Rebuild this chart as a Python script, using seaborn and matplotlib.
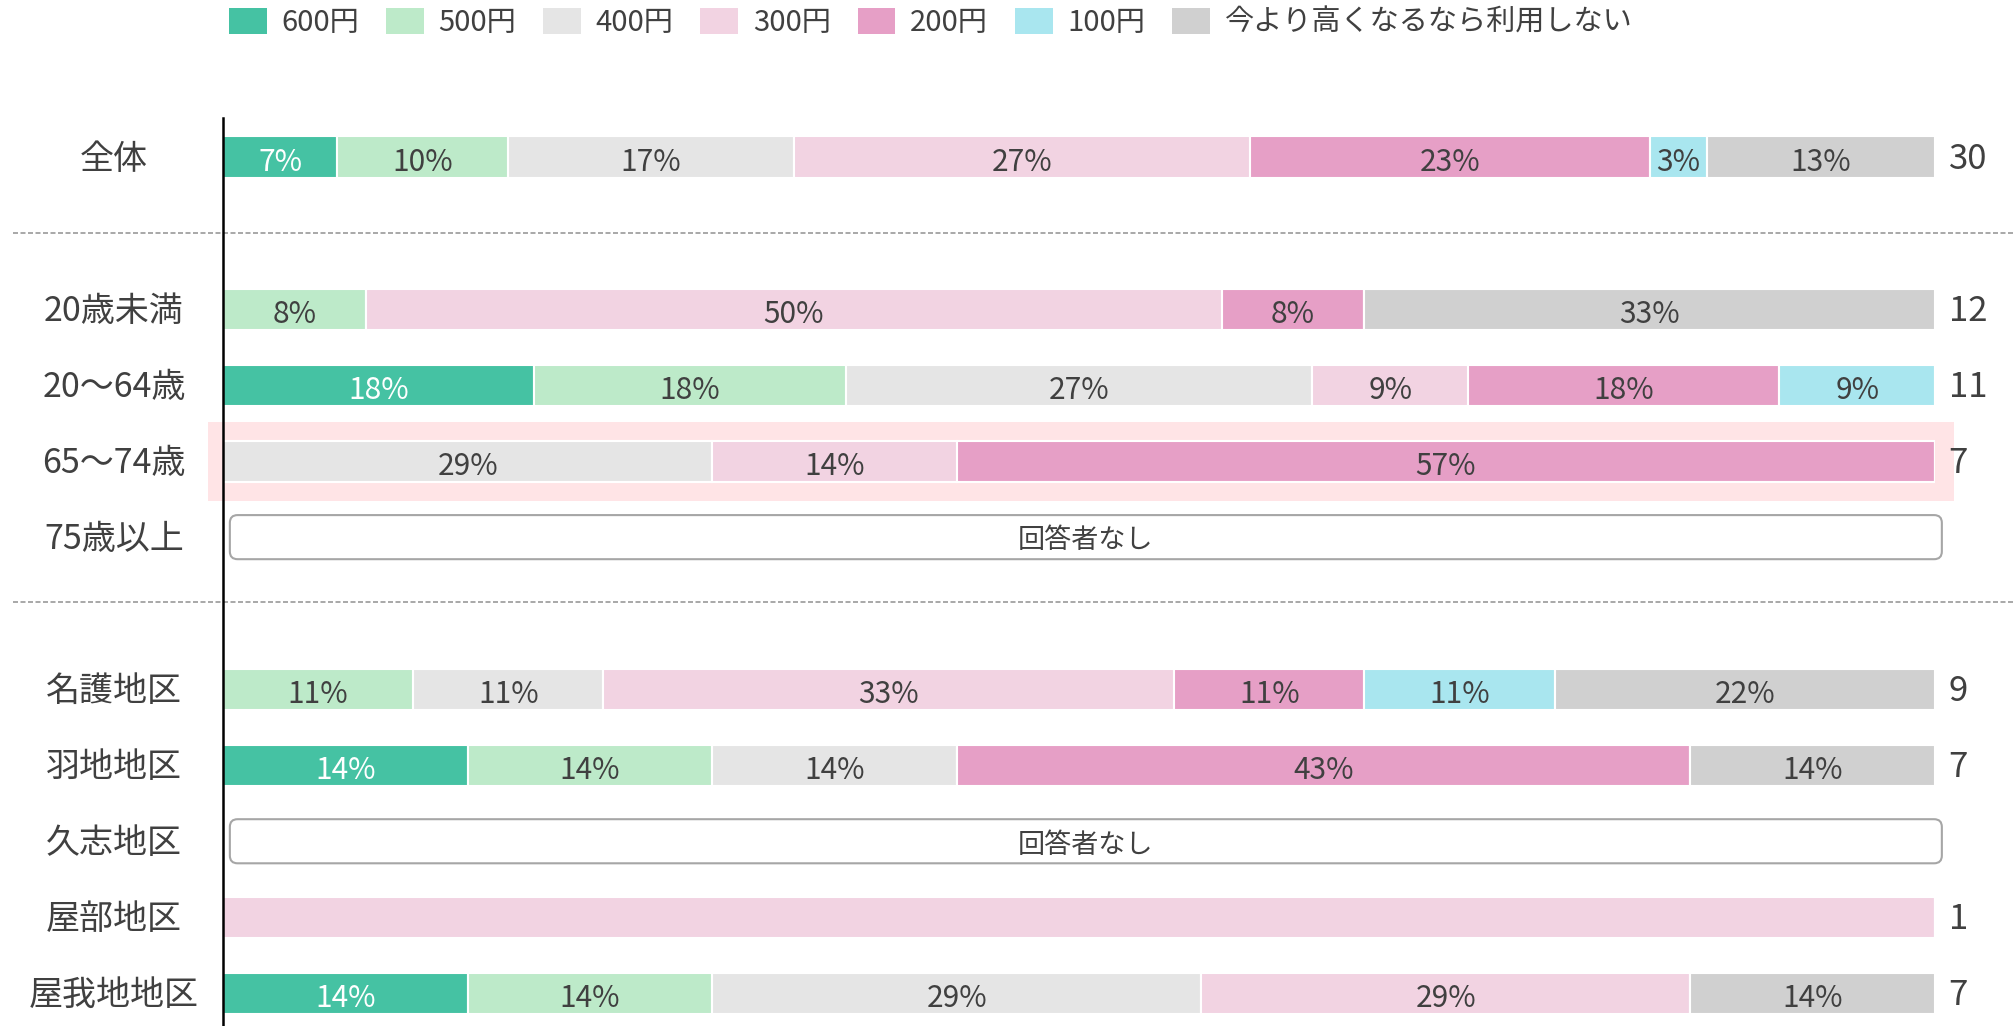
import numpy as np
import pandas as pd
import matplotlib
matplotlib.use("Agg")
import matplotlib.pyplot as plt
import seaborn as sns
from matplotlib.patches import Patch, Rectangle, FancyBboxPatch
from matplotlib.transforms import blended_transform_factory

# rows of the chart, position on the y axis (gaps are the dashed separators)
rows = ["全体", "20歳未満", "20～64歳", "65～74歳", "75歳以上",
        "名護地区", "羽地地区", "久志地区", "屋部地区", "屋我地地区"]
row_pos = [0, 2, 3, 4, 5, 7, 8, 9, 10, 11]

answers = ["600円", "500円", "400円", "300円", "200円", "100円", "今より高くなるなら利用しない"]
colors = ["#45C2A3", "#BDEAC9", "#E5E5E5", "#F2D3E2", "#E69FC6", "#A9E6EF", "#D0D0D0"]

# number of answers per row, in the order of `answers` (None = 回答者なし)
cnt_zentai = [2, 3, 5, 8, 7, 1, 4]
cnt_u20 = [0, 1, 0, 6, 1, 0, 4]
cnt_20_64 = [2, 2, 3, 1, 2, 1, 0]
cnt_65_74 = [0, 0, 2, 1, 4, 0, 0]
cnt_75 = None
cnt_nago = [0, 1, 1, 3, 1, 1, 2]
cnt_haneji = [1, 1, 1, 0, 3, 0, 1]
cnt_kushi = None
cnt_yabu = [0, 0, 0, 1, 0, 0, 0]
cnt_yagaji = [1, 1, 2, 2, 0, 0, 1]
counts = [cnt_zentai, cnt_u20, cnt_20_64, cnt_65_74, cnt_75,
          cnt_nago, cnt_haneji, cnt_kushi, cnt_yabu, cnt_yagaji]

highlight_row = "65～74歳"
no_answer_text = "回答者なし"

TXT = "#404040"

recs = []
for name, pos, cnt in zip(rows, row_pos, counts):
    if cnt is None:
        continue
    n = sum(cnt)
    left = 0.0
    for a, c in zip(answers, cnt):
        pct = c / n * 100
        recs.append(dict(row=name, pos=pos, answer=a, pct=pct, left=left, n=n))
        left += pct
df = pd.DataFrame(recs)

sns.set_theme(style="white")
plt.rcParams["font.family"] = ["Noto Sans CJK JP", "DejaVu Sans"]

W, H = 2013, 1026
fig = plt.figure(figsize=(W / 100, H / 100), dpi=100)
ax = fig.add_axes([223 / W, 0, (1935 - 223) / W, 908 / H])

for a, col in zip(answers, colors):
    sub = df[df["answer"] == a].sort_values("pos")
    sns.barplot(data=sub, x="pct", y="pos", orient="h", native_scale=True,
                left=sub["left"].to_numpy(), color=col, saturation=1,
                width=0.54, edgecolor="white", linewidth=1.5,
                errorbar=None, ax=ax, zorder=2)

# percentage labels
for _, r in df.iterrows():
    if r["pct"] <= 0 or r["pct"] >= 100:
        continue
    tc = "white" if r["answer"] == "600円" else TXT
    ax.text(r["left"] + r["pct"] / 2, r["pos"] + 0.07, f"{round(r['pct'])}%",
            ha="center", va="center", fontsize=21.5, color=tc, zorder=3)

# n labels on the right
for name, pos, cnt in zip(rows, row_pos, counts):
    if cnt is not None:
        ax.text(100.8, pos + 0.03, str(sum(cnt)), ha="left", va="center",
                fontsize=25, color=TXT, clip_on=False)

# row labels on the left
lab_tr = blended_transform_factory(fig.transFigure, ax.transData)
for name, pos in zip(rows, row_pos):
    ax.text(114 / W, pos + 0.03, name, ha="center", va="center", fontsize=24.5,
            color=TXT, transform=lab_tr, clip_on=False)

# highlighted row
hp = row_pos[rows.index(highlight_row)]
ax.add_patch(Rectangle((-0.88, hp - 0.52), 102.0, 1.04, fc="#FFE4E6", ec="none",
                       zorder=0.5, clip_on=False))

# 回答者なし boxes
for name, pos, cnt in zip(rows, row_pos, counts):
    if cnt is None:
        ax.add_patch(FancyBboxPatch((0.4, pos - 0.29), 100.0, 0.58,
                                    boxstyle="round,pad=0,rounding_size=0.45",
                                    mutation_aspect=0.225, fc="white", ec="#A6A6A6",
                                    lw=1.5, zorder=2, clip_on=False))
        ax.text(50.4, pos + 0.05, no_answer_text, ha="center", va="center",
                fontsize=19.5, color=TXT, zorder=3)

# dashed separators
for y in [1.0, 5.85]:
    ax.plot([13 / W, 1], [y, y], transform=lab_tr, ls=(0, (3, 1.5)),
            color="#9A9A9A", lw=1.2, clip_on=False, zorder=1)

ax.set_xlim(0, 100)
ax.set_ylim(11.43, -0.513)
ax.set_xlabel("")
ax.set_ylabel("")
ax.set_xticks([])
ax.set_yticks([])
for s in ["top", "right", "bottom"]:
    ax.spines[s].set_visible(False)
ax.spines["left"].set_color("black")
ax.spines["left"].set_linewidth(1.8)
ax.set_facecolor("none")

handles = [Patch(facecolor=c, edgecolor="none") for c in colors]
fig.legend(handles, answers, ncol=7, loc="center left",
           bbox_to_anchor=(229 / W, 1 - 23 / H), frameon=False,
           fontsize=21, handlelength=1.3, handleheight=0.95,
           handletextpad=0.5, columnspacing=0.92, borderpad=0, borderaxespad=0,
           labelcolor=TXT)

fig.savefig("out.png", dpi=100, facecolor="white")
